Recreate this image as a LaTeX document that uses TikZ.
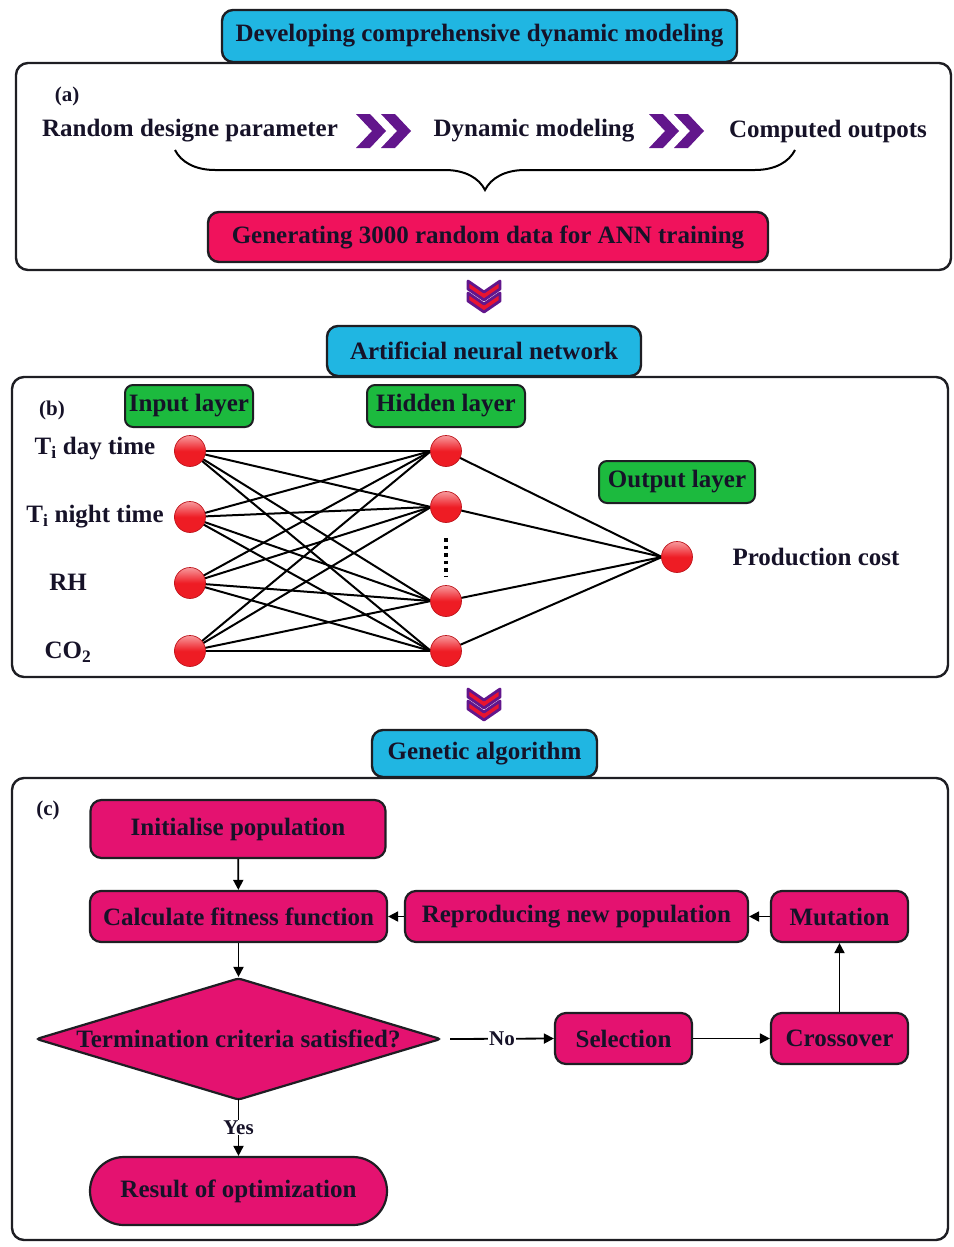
\documentclass[tikz,border=0pt]{standalone}
\usepackage{fontspec}
\setmainfont{Liberation Serif}
\usetikzlibrary{arrows.meta,shapes.geometric,decorations.pathreplacing,calc}

\definecolor{ink}{RGB}{22,18,40}
\definecolor{edge}{RGB}{30,30,35}
\definecolor{hdrcyan}{RGB}{32,182,226}
\definecolor{genred}{RGB}{240,18,92}
\definecolor{gapink}{RGB}{228,18,112}
\definecolor{laygreen}{RGB}{28,186,62}
\definecolor{chevpurple}{RGB}{98,22,140}
\definecolor{chevred}{RGB}{232,20,48}
\definecolor{ballred}{RGB}{238,28,36}

\tikzset{
  txt/.style={font=\fontsize{25}{27}\selectfont\bfseries, text=ink},
  small/.style={font=\fontsize{21}{23}\selectfont\bfseries, text=ink},
  frame/.style={draw=edge, line width=2.4pt, rounded corners=12pt},
  hdr/.style={txt, draw=edge, line width=2.4pt, rounded corners=11pt, fill=hdrcyan, inner sep=0pt},
  genbox/.style={txt, draw=edge, line width=2.4pt, rounded corners=11pt, fill=genred, inner sep=0pt},
  gabox/.style={txt, draw=edge, line width=2.2pt, rounded corners=11pt, fill=gapink, inner sep=0pt},
  laybox/.style={txt, draw=edge, line width=2pt, rounded corners=8pt, fill=laygreen, inner sep=0pt},
  neuron/.style={circle, minimum size=31pt, inner sep=0pt, top color=ballred!45!white, bottom color=ballred,
     middle color=ballred, draw=ballred!80!black, line width=0.7pt},
  link/.style={line width=2pt, draw=black},
  arr/.style={line width=1.8pt, draw=black, -{Triangle[length=10pt,width=10pt]}},
  rchev/.pic={\fill[chevpurple] (-15,-17) -- (-1,-17) -- (15,0) -- (-1,17) -- (-15,17) -- (1,0) -- cycle;},
  dchev/.pic={\filldraw[fill=chevred, draw=chevpurple, line width=2.8pt, line join=round]
     (-16,-8) -- (0,3) -- (16,-8) -- (16,0) -- (0,11) -- (-16,0) -- cycle;}
}

\begin{document}
\begin{tikzpicture}[x=1pt,y=-1pt]
\useasboundingbox (0,0) rectangle (953,1247);

% ---------- (a) dynamic modelling ----------
\node[frame, minimum width=935pt, minimum height=207pt] (fa) at (483.5,166.5) {};
\node[hdr, minimum width=515pt, minimum height=52pt] (h1) at (479.5,36) {Developing comprehensive dynamic modeling};
\node[small] (la) at (67,96) {(a)};
\node[txt] (ra) at (190,131) {Random designe parameter};
\node[txt] (dm) at (534,131) {Dynamic modeling};
\node[txt] (co) at (828,131) {Computed outpots};
\pic at (371,131) {rchev};
\pic at (396,131) {rchev};
\pic at (664,131) {rchev};
\pic at (689,131) {rchev};
\coordinate (brL) at (175,150);
\coordinate (brR) at (795,150);
\draw[line width=2pt, draw=black, decorate, decoration={brace, mirror, amplitude=40pt}] (brL) -- (brR);
\node[genbox, minimum width=560pt, minimum height=50pt] (gen) at (488,237) {Generating 3000 random data for ANN training};

\pic at (484,289) {dchev};
\pic at (484,301) {dchev};

% ---------- (b) artificial neural network ----------
\node[frame, minimum width=936pt, minimum height=300pt] (fb) at (480,527) {};
\node[hdr, minimum width=314pt, minimum height=50pt] (h2) at (484,351) {Artificial neural network};
\node[small] (lb) at (52,410) {(b)};
\node[laybox, minimum width=128pt, minimum height=42pt] (lin) at (189,406) {Input layer};
\node[laybox, minimum width=158pt, minimum height=42pt] (lhid) at (446,406) {Hidden layer};
\node[laybox, minimum width=156pt, minimum height=42pt] (lout) at (677,482) {Output layer};

\foreach \n/\y in {1/451,2/517,3/583,4/651} \coordinate (i\n) at (190,\y);
\foreach \n/\y in {1/451,2/507,3/601,4/651} \coordinate (h\n) at (446,\y);
\coordinate (o) at (677,557);

% all-to-all connections, then the neurons on top
\foreach \a in {1,...,4} \foreach \b in {1,...,4} \draw[link] (i\a) -- ($(h\b)+(-15,0)$);
\foreach \b in {1,...,4} \draw[link] (h\b) -- ($(o)+(-15,0)$);
\foreach \n in {1,...,4} \node[neuron] (ni\n) at (i\n) {};
\foreach \n in {1,...,4} \node[neuron] (nh\n) at (h\n) {};
\node[neuron] (no) at (o) {};

\coordinate (dotA) at (446,538);
\coordinate (dotB) at (446,577);
\draw[line width=3.5pt, dash pattern=on 3.5pt off 4pt] (dotA) -- (dotB);

\node[txt] (x1) at (95,449) {T\textsubscript{i} day time};
\node[txt] (x2) at (95,517) {T\textsubscript{i} night time};
\node[txt] (x3) at (68,582) {RH};
\node[txt] (x4) at (68,652) {CO\textsubscript{2}};
\node[txt] (y1) at (816,557) {Production cost};

\pic at (484,697) {dchev};
\pic at (484,709) {dchev};

% ---------- (c) genetic algorithm ----------
\node[frame, minimum width=936pt, minimum height=462pt] (fc) at (480,1009) {};
\node[hdr, minimum width=225pt, minimum height=47pt] (h3) at (484.5,753.5) {Genetic algorithm};
\node[small] (lc) at (48,810) {(c)};

\node[gabox, minimum width=295pt, minimum height=58pt] (init) at (238,829) {Initialise population};
\node[gabox, minimum width=297pt, minimum height=51pt] (calc) at (238.5,916.5) {Calculate fitness function};
\node[gabox, minimum width=343pt, minimum height=51pt] (repr) at (576.5,916.5) {Reproducing new population};
\node[gabox, minimum width=137pt, minimum height=51pt] (mut) at (839.5,916.5) {Mutation};
\node[diamond, draw=edge, line width=2.2pt, fill=gapink, rounded corners=3pt, inner sep=0pt,
      minimum width=405pt, minimum height=122pt] (term) at (238.5,1039) {};
\node[txt] (termt) at (term.center) {Termination criteria satisfied?};
\node[gabox, minimum width=137pt, minimum height=51pt] (sel) at (623.5,1038.5) {Selection};
\node[gabox, minimum width=137pt, minimum height=51pt] (cross) at (839.5,1038.5) {Crossover};
\node[gabox, rounded corners=34pt, minimum width=297pt, minimum height=68pt] (res) at (238.5,1191) {Result of optimization};

\draw[arr] (init) -- (calc);
\draw[arr] (calc) -- (term.north);
\draw[arr] ([yshift=2pt]term.south) -- node[fill=white, small, inner sep=1pt] {Yes} (res.north);
\draw[arr] ([xshift=8pt]term.east) -- node[fill=white, small, inner sep=1pt] {No} (sel.west);
\draw[arr] (sel) -- (cross);
\draw[arr] (cross) -- (mut);
\draw[arr] (mut) -- (repr);
\draw[arr] (repr) -- (calc);

\end{tikzpicture}
\end{document}
